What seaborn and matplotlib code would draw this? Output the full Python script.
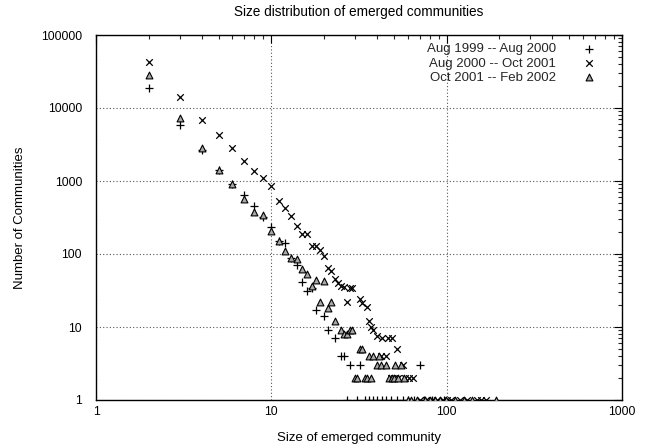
import matplotlib
matplotlib.use("Agg")
import matplotlib.pyplot as plt
import seaborn as sns
import pandas as pd
from matplotlib.ticker import FixedLocator, FixedFormatter, LogLocator, NullFormatter

# ---- data ----
labels = ["Aug 1999 -- Aug 2000", "Aug 2000 -- Oct 2001", "Oct 2001 -- Feb 2002"]

sizes_a = [2, 3, 4, 5, 6, 7, 8, 9, 10, 11, 12, 13, 14, 15, 16, 17, 18, 20, 21, 23, 25, 26, 28, 32, 70,
           27, 31, 34, 36, 38, 40, 43, 45, 48, 52, 56, 60, 65, 74, 83, 96]
counts_a = [19000, 5850, 2640, 1400, 900, 640, 458, 325, 237, 150, 142, 87, 70, 42, 31, 34, 17, 14, 9, 7, 4, 4, 3, 3, 3,
            1, 1, 1, 1, 1, 1, 1, 1, 1, 1, 1, 1, 1, 1, 1, 1]

sizes_b = [2, 3, 4, 5, 6, 7, 8, 9, 10, 11, 12, 13, 14, 15, 16, 17, 18, 19, 20, 21, 22, 23, 24, 25, 26, 27, 28, 29,
           32, 33, 35, 36, 37, 38, 40, 42, 43, 45, 46, 49, 52, 56,
           48, 50, 53, 58, 61, 64,
           70, 76, 82, 88, 95, 100, 106, 119, 131, 148, 158, 168]
counts_b = [42700, 14300, 6850, 4270, 2800, 1900, 1370, 1090, 860, 537, 423, 331, 241, 188, 185, 130, 128, 113, 95, 65,
            58, 46, 40, 36, 35, 22, 34, 34,
            24, 21, 19, 12, 10, 9, 7.5, 4, 7, 4, 7, 7, 5, 3,
            2, 2, 2, 2, 2, 2,
            1, 1, 1, 1, 1, 1, 1, 1, 1, 1, 1, 1]

sizes_c = [2, 3, 4, 5, 6, 7, 8, 9, 10, 11, 12, 13, 14, 15, 16, 17, 18, 19, 20, 21, 22, 23, 25, 26, 27, 28, 29,
           32, 33, 36, 38, 41, 40, 42, 45, 51, 55,
           30, 31, 34, 35, 37, 47, 49, 50, 53, 57,
           60, 63, 68, 75, 80, 86, 92, 99, 112, 125, 140, 192]
counts_c = [28600, 7200, 2860, 1420, 910, 566, 372, 340, 207, 152, 111, 87, 86, 63, 54, 36, 44, 22, 43, 18, 22, 12,
            9, 8, 8, 9, 9,
            5, 5, 4, 4, 4, 3, 3, 3, 3, 3,
            2, 2, 2, 2, 2, 2, 2, 2, 2, 2,
            1, 1, 1, 1, 1, 1, 1, 1, 1, 1, 1, 1]

x_ticks = [1, 10, 100, 1000]
x_ticklabels = ["1", "10", "100", "1000"]
y_ticks = [1, 10, 100, 1000, 10000, 100000]
y_ticklabels = ["1", "10", "100", "1000", "10000", "100000"]

# ---- plotting ----
sns.set_theme(style="white")
plt.rcParams["font.family"] = ["Liberation Sans", "DejaVu Sans"]

fig = plt.figure(figsize=(6.56, 4.45), dpi=100)
ax = fig.add_axes([96 / 656, 1 - 400 / 445, (622 - 96) / 656, (400 - 35) / 445])

df_a = pd.DataFrame({"size": sizes_a, "count": counts_a})
df_b = pd.DataFrame({"size": sizes_b, "count": counts_b})
df_c = pd.DataFrame({"size": sizes_c, "count": counts_c})

sns.scatterplot(data=df_a, x="size", y="count", marker="+", color="black", s=30,
                linewidth=0.9, ax=ax, label=labels[0], zorder=3)
sns.scatterplot(data=df_b, x="size", y="count", marker="x", color="black", s=22,
                linewidth=0.9, ax=ax, label=labels[1], zorder=3)
sns.scatterplot(data=df_c, x="size", y="count", marker="^", facecolor="#a8a8a8",
                edgecolor="black", s=24, linewidth=0.8, ax=ax, label=labels[2], zorder=3)

ax.set_xscale("log")
ax.set_yscale("log")
ax.set_xlim(1, 1000)
ax.set_ylim(1, 100000)

ax.xaxis.set_major_locator(FixedLocator(x_ticks))
ax.xaxis.set_major_formatter(FixedFormatter(x_ticklabels))
ax.yaxis.set_major_locator(FixedLocator(y_ticks))
ax.yaxis.set_major_formatter(FixedFormatter(y_ticklabels))
ax.xaxis.set_minor_locator(LogLocator(base=10, subs=range(2, 10), numticks=20))
ax.yaxis.set_minor_locator(LogLocator(base=10, subs=range(2, 10), numticks=20))
ax.xaxis.set_minor_formatter(NullFormatter())
ax.yaxis.set_minor_formatter(NullFormatter())

ax.tick_params(which="major", direction="in", length=6, width=0.8, top=True, right=True,
               labelsize=8.8, colors="black")
ax.tick_params(axis="x", which="major", pad=4)
ax.tick_params(axis="y", which="major", pad=10)
ax.tick_params(which="minor", direction="in", length=3, width=0.8, top=True, right=True)

ax.grid(True, which="major", linestyle=(0, (1, 2)), color="#555555", linewidth=0.8)
for s in ax.spines.values():
    s.set_color("black")
    s.set_linewidth(1.0)
    s.set_visible(True)

ax.set_xlabel("Size of emerged community", fontsize=9.5, color="black", labelpad=10.5)
ax.set_ylabel("Number of Communities", fontsize=9.5, color="black", labelpad=11)
ax.set_title("Size distribution of emerged communities", fontsize=9.8, color="black", pad=14)

leg = ax.legend(loc="upper right", bbox_to_anchor=(0.98, 1.003), frameon=False, markerfirst=False,
                fontsize=9.5, handletextpad=1.5, labelspacing=0.15, borderaxespad=0.3)

fig.savefig("out.png", dpi=100)
